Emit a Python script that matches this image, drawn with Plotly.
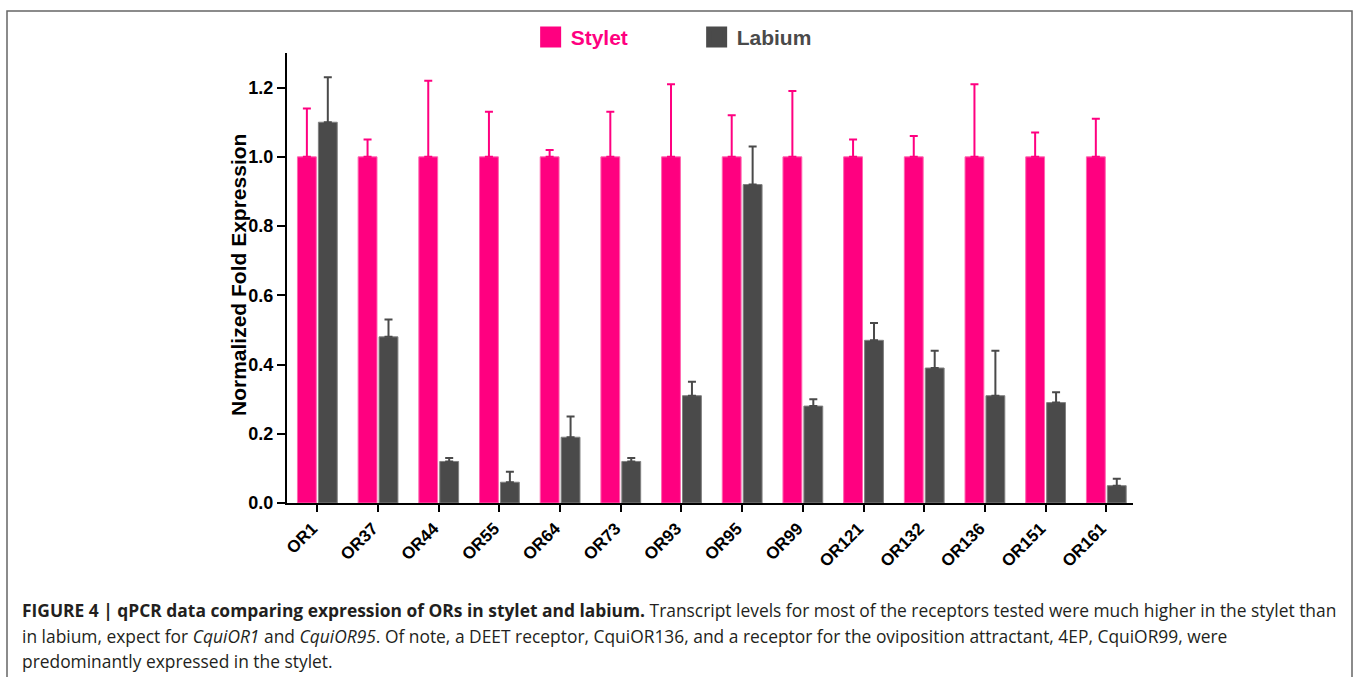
import plotly.graph_objects as go

# receptors on the x axis
genes = ["OR1", "OR37", "OR44", "OR55", "OR64", "OR73", "OR93",
         "OR95", "OR99", "OR121", "OR132", "OR136", "OR151", "OR161"]

# normalized fold expression (mean) and upper error (SEM)
stylet = [1.0] * 14
stylet_err = [0.14, 0.05, 0.22, 0.13, 0.02, 0.13, 0.21,
              0.12, 0.19, 0.05, 0.06, 0.21, 0.07, 0.11]
labium = [1.10, 0.48, 0.12, 0.06, 0.19, 0.12, 0.31,
          0.92, 0.28, 0.47, 0.39, 0.31, 0.29, 0.05]
labium_err = [0.13, 0.05, 0.01, 0.03, 0.06, 0.01, 0.04,
              0.11, 0.02, 0.05, 0.05, 0.13, 0.03, 0.02]

PINK = "#FF0080"
GREY = "#4A4A4A"
FONT = "Liberation Sans"

fig = go.Figure()

# Stylet bars
fig.add_trace(go.Bar(
    x=genes, y=stylet, name="Stylet", showlegend=False,
    marker=dict(color=PINK, line=dict(color="#FF66B0", width=1)),
    error_y=dict(type="data", symmetric=False, array=stylet_err,
                 arrayminus=[0] * len(genes), color=PINK, thickness=2, width=4)
))

# Labium bars
fig.add_trace(go.Bar(
    x=genes, y=labium, name="Labium", showlegend=False,
    marker=dict(color=GREY, line=dict(color="#808080", width=1)),
    error_y=dict(type="data", symmetric=False, array=labium_err,
                 arrayminus=[0] * len(genes), color=GREY, thickness=2, width=4)
))

# legend entries (bigger squares than the bar legend gives)
fig.add_trace(go.Scatter(
    x=[None], y=[None], mode="markers", name="<span style='color:%s'><b>Stylet</b></span>" % PINK,
    marker=dict(symbol="square", size=16, color=PINK, line=dict(color=PINK, width=5))
))
fig.add_trace(go.Scatter(
    x=[None], y=[None], mode="markers", name="<span style='color:%s'><b>Labium</b></span>" % GREY,
    marker=dict(symbol="square", size=16, color=GREY, line=dict(color=GREY, width=5))
))

fig.update_layout(
    width=1358, height=677,
    margin=dict(l=287, r=225, t=53, b=174),
    paper_bgcolor="white", plot_bgcolor="white",
    barmode="group", bargap=0.31, bargroupgap=0.1,
    font=dict(family=FONT, color="black"),
    legend=dict(orientation="h", x=0.288, y=1.035, xanchor="left", yanchor="middle",
                font=dict(size=21, family=FONT), itemsizing="trace",
                entrywidth=121, entrywidthmode="pixels"),
    xaxis=dict(
        range=[-0.5, 13.44], showline=True, linecolor="black", linewidth=2,
        ticks="outside", ticklen=7, tickwidth=2, tickcolor="black",
        tickangle=-45, tickfont=dict(size=17, weight="bold", family=FONT),
        ticklabelshift=-5,
        showgrid=False, zeroline=False
    ),
    yaxis=dict(
        range=[0, 1.3], tickvals=[0, 0.2, 0.4, 0.6, 0.8, 1.0, 1.2],
        ticktext=["0.0", "0.2", "0.4", "0.6", "0.8", "1.0", "1.2"],
        showline=True, linecolor="black", linewidth=2,
        ticks="outside", ticklen=8, tickwidth=2, tickcolor="black",
        tickfont=dict(size=18, weight="bold", family=FONT),
        showgrid=False, zeroline=False,
    ),
)

# y axis title placed by hand, closer to the tick labels
fig.add_annotation(text="<b>Normalized Fold Expression</b>", textangle=-90,
                   xref="paper", yref="paper", x=(238 - 287) / 846, y=(503 - 275) / 450,
                   xanchor="center", yanchor="middle", showarrow=False,
                   font=dict(size=21, family=FONT, color="black"))

# frame around the figure panel
fig.add_shape(type="rect", xref="paper", yref="paper",
              x0=(7 - 287) / 846, x1=(1352 - 287) / 846,
              y0=-0.5, y1=(503 - 11) / 450,
              line=dict(color="#666666", width=1.5))

# caption
cap = [
    "<b>FIGURE 4 | qPCR data comparing expression of ORs in stylet and labium.</b> "
    "Transcript levels for most of the receptors tested were much higher in the stylet than",
    "in labium, expect for <i>CquiOR1</i> and <i>CquiOR95</i>. Of note, a DEET receptor, "
    "CquiOR136, and a receptor for the oviposition attractant, 4EP, CquiOR99, were",
    "predominantly expressed in the stylet.",
]
for i, line in enumerate(cap):
    fig.add_annotation(text=line, xref="paper", yref="paper",
                       x=(20 - 287) / 846, y=(503 - 610 - 25.5 * i) / 450,
                       xanchor="left", yanchor="middle", showarrow=False,
                       font=dict(size=17.4, family="Open Sans", color="#231F20"))

fig.write_html("out.html", config={"displayModeBar": False},
               post_script="document.body.style.margin='0';")
